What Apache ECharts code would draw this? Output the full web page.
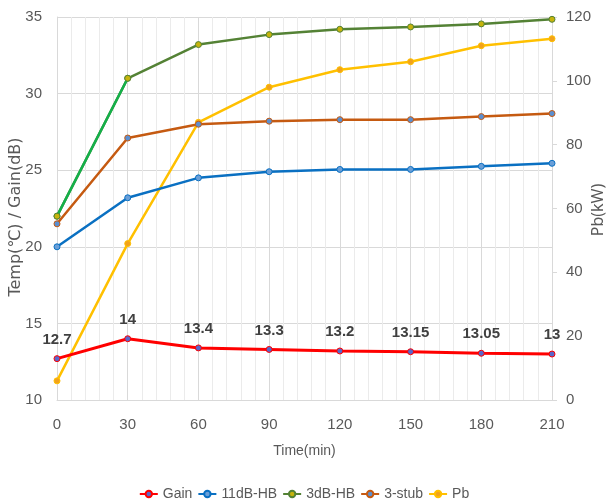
<!DOCTYPE html>
<html>
<head>
<meta charset="utf-8">
<script src="https://cdn.jsdelivr.net/npm/echarts@6/dist/echarts.min.js"></script>
<style>
  html, body { margin: 0; padding: 0; background: #fff; }
  #chart { width: 608px; height: 499px; }
</style>
</head>
<body>
<div id="chart"></div>
<script>
// Time axis (minutes)
const timeMin = [0, 30, 60, 90, 120, 150, 180, 210];

// Left axis series: Temp(℃) / Gain(dB)
const gain   = [12.7, 14, 13.4, 13.3, 13.2, 13.15, 13.05, 13];
const hb11dB = [20, 23.2, 24.5, 24.9, 25.05, 25.05, 25.25, 25.45];
const hb3dB  = [22, 31, 33.2, 33.85, 34.2, 34.35, 34.55, 34.85];
const stub3  = [21.5, 27.1, 28.0, 28.2, 28.3, 28.3, 28.5, 28.7];

// Right axis series: Pb(kW)
const pb = [6, 49, 87, 98, 103.5, 106, 111, 113.2];

// Axis titles
const leftTitle = 'Temp(℃) / Gain(dB)';
const rightTitle = 'Pb(kW)';

const pairs = arr => timeMin.map((t, i) => [t, arr[i]]);

const baseFont = "'Liberation Sans', Arial, sans-serif";
const tickFont = { color: '#595959', fontSize: 15, fontFamily: baseFont };
const gridGray = '#d9d9d9';

function lineSeries(name, values, lineColor, markerFill, extra) {
  return Object.assign({
    name: name,
    type: 'line',
    data: pairs(values),
    symbol: 'circle',
    symbolSize: 6,
    showAllSymbol: true,
    lineStyle: { color: lineColor, width: 2.5 },
    itemStyle: { color: markerFill, borderColor: lineColor, borderWidth: 1 },
    emphasis: { disabled: true },
    animation: false
  }, extra || {});
}

// vertical axis title, reading bottom to top
function sideTitle(text, cx, cy, font) {
  return {
    type: 'text',
    x: cx,
    y: cy,
    rotation: Math.PI / 2,
    silent: true,
    style: {
      text: text,
      fill: '#595959',
      font: font,
      textAlign: 'center',
      textVerticalAlign: 'middle'
    }
  };
}

const chart = echarts.init(document.getElementById('chart'), null, { renderer: 'canvas' });

chart.setOption({
  backgroundColor: '#ffffff',
  animation: false,
  grid: {
    left: 57, right: 56, top: 17, bottom: 99,
    containLabel: false,
    outerBoundsMode: 'none'
  },
  graphic: [
    sideTitle(leftTitle, 16, 217, "normal 16px 'DejaVu Sans', sans-serif"),
    sideTitle(rightTitle, 598, 210, "normal 16px 'Noto Sans', sans-serif")
  ],
  legend: {
    data: ['Gain', '11dB-HB', '3dB-HB', '3-stub', 'Pb'],
    top: 482,
    left: 'center',
    itemWidth: 18,
    itemHeight: 8,
    itemGap: 5,
    textStyle: { color: '#595959', fontSize: 14, fontFamily: baseFont }
  },
  xAxis: {
    type: 'value',
    min: 0,
    max: 210,
    interval: 30,
    name: 'Time(min)',
    nameLocation: 'middle',
    nameGap: 44,
    nameTextStyle: { color: '#595959', fontSize: 14, fontFamily: baseFont },
    axisLine: { show: true, lineStyle: { color: gridGray, width: 1 } },
    axisTick: { show: false },
    axisLabel: Object.assign({ margin: 17 }, tickFont),
    splitLine: { show: true, lineStyle: { color: gridGray, width: 1 } },
    minorTick: { show: false, splitNumber: 5 },
    minorSplitLine: { show: true, lineStyle: { color: '#ebebeb', width: 1 } }
  },
  yAxis: [
    {
      type: 'value',
      min: 10,
      max: 35,
      interval: 5,
      axisLine: { show: true, lineStyle: { color: gridGray, width: 1 } },
      axisTick: { show: false },
      axisLabel: Object.assign({ margin: 15 }, tickFont),
      splitLine: { show: true, lineStyle: { color: gridGray, width: 1 } }
    },
    {
      type: 'value',
      position: 'right',
      min: 0,
      max: 120,
      interval: 20,
      axisLine: { show: true, lineStyle: { color: gridGray, width: 1 } },
      axisTick: { show: true, length: 5, lineStyle: { color: gridGray } },
      axisLabel: Object.assign({ margin: 14 }, tickFont),
      splitLine: { show: false }
    }
  ],
  series: [
    lineSeries('Pb', pb, '#ffc000', '#f2a21c', { yAxisIndex: 1, z: 2 }),
    lineSeries('3-stub', stub3, '#c55a11', '#5b8fd0', { z: 3 }),
    lineSeries('11dB-HB', hb11dB, '#0a70c2', '#6a9fd8', { z: 4 }),
    lineSeries('3dB-HB', hb3dB, '#548235', '#c6b40c', { z: 5 }),
    // steep warm-up segment of the 3dB-HB curve, drawn in brighter green
    lineSeries('3dB-HB warm-up', hb3dB.slice(0, 2), '#14b04a', '#c6b40c', {
      data: pairs(hb3dB).slice(0, 2),
      itemStyle: { color: '#c6b40c', borderColor: '#548235', borderWidth: 1 },
      z: 6
    }),
    lineSeries('Gain', gain, '#ff0000', '#5a66c8', {
      z: 7,
      lineStyle: { color: '#ff0000', width: 3 },
      label: {
        show: true,
        position: 'top',
        distance: 8,
        color: '#404040',
        fontSize: 15,
        fontWeight: 'bold',
        fontFamily: baseFont,
        formatter: p => String(gain[p.dataIndex])
      }
    })
  ]
});
</script>
</body>
</html>
